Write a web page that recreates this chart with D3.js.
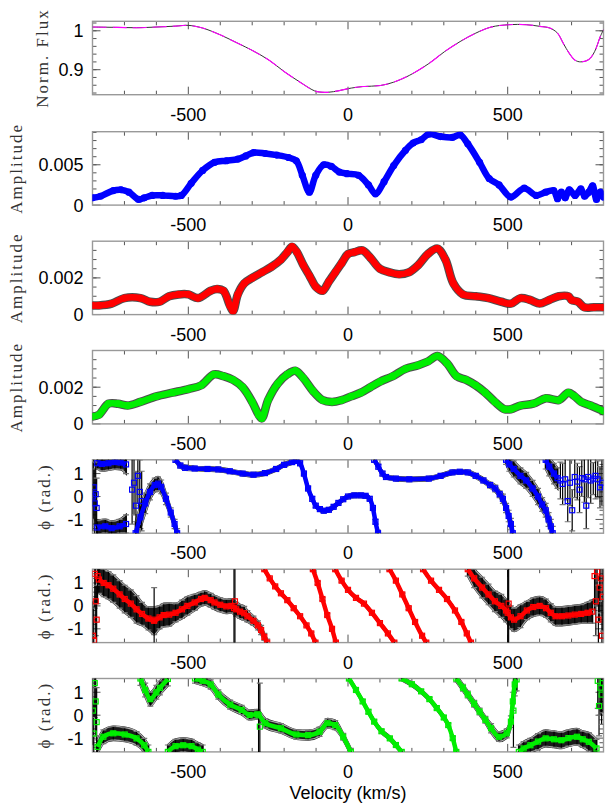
<!DOCTYPE html>
<html><head><meta charset="utf-8">
<script src="https://cdn.jsdelivr.net/npm/d3@7"></script>
<style>body{margin:0;background:#fff}svg{display:block}</style>
</head><body>
<svg id="c" width="611" height="806"></svg>
<script>
// ---------------- DATA ----------------
const velDomain = [-800, 800];
const velMajorTicks = [-500, 0, 500];
const velMinorTicks = [-800,-700,-600,-400,-300,-200,-100,100,200,300,400,600,700,800];

// Panel 1: mean normalized flux
const fluxV   = [-800,-723,-662,-601,-540,-500,-455,-400,-345,-298,-247,-198,-150,-113,-97,-64,-27,1,46,101,143,192,253,302,351,400,448,503,558,601,632,656,674,693,711,729,754,772,790,800];
const fluxVal = [1.0096,1.0088,1.0079,1.0096,1.012,1.014,1.007,0.9896,0.9679,0.9488,0.9244,0.894,0.8679,0.8488,0.8436,0.8418,0.8462,0.8514,0.8566,0.8592,0.8679,0.8853,0.9157,0.9462,0.9723,0.994,1.0096,1.0157,1.0157,1.0114,1.007,0.994,0.9679,0.9418,0.9244,0.9201,0.9262,0.9462,0.9853,1.0027];

// Panel 2: amplitude, blue
const ampBlueV = [-800,-775,-735,-711,-686,-656,-638,-613,-580,-540,-522,-491,-455,-418,-381,-345,-320,-296,-259,-223,-186,-162,-143,-121,-101,-76,-52,-27,-3,33,64,86,113,143,180,204,229,253,290,327,351,375,412,442,473,510,552,589,619,644,656,668,680,693,711,729,741,754,766,778,790,800];
const ampBlue  = [0.0009,0.0011,0.0018,0.0019,0.0016,0.0007,0.0009,0.0012,0.0012,0.0011,0.0012,0.0027,0.0043,0.0053,0.0055,0.0057,0.0061,0.0065,0.0064,0.0062,0.0059,0.0055,0.0037,0.0016,0.0037,0.0050,0.0048,0.0041,0.0039,0.0037,0.0025,0.0014,0.0029,0.0049,0.0068,0.0077,0.0081,0.0088,0.0085,0.0084,0.0087,0.0076,0.0053,0.0033,0.0025,0.0010,0.0021,0.0012,0.0016,0.0018,0.0008,0.0016,0.0009,0.0019,0.0012,0.0020,0.0011,0.0016,0.0024,0.0007,0.0016,0.0010];

// Panel 3: amplitude, red
const ampRedV = [-800,-780,-740,-700,-650,-620,-590,-560,-530,-500,-470,-430,-410,-390,-370,-360,-345,-325,-300,-270,-240,-210,-190,-175,-160,-140,-120,-100,-80,-60,-40,-20,0,20,45,70,100,130,160,190,220,250,280,305,330,360,400,440,480,510,540,570,600,630,660,690,700,720,740,770,800];
const ampRed  = [0.0005,0.0005,0.0006,0.0009,0.0009,0.0007,0.0007,0.0010,0.0011,0.0011,0.0009,0.0013,0.0014,0.0013,0.0005,0.0002,0.0011,0.0017,0.0020,0.0023,0.0026,0.0030,0.0034,0.0037,0.0034,0.0027,0.0021,0.0015,0.0013,0.0018,0.0023,0.0028,0.0033,0.0034,0.0035,0.0031,0.0025,0.0023,0.0022,0.0023,0.0027,0.0033,0.0036,0.0030,0.0017,0.0011,0.0010,0.0009,0.0007,0.0006,0.0009,0.0008,0.0006,0.0008,0.0010,0.0010,0.0008,0.0007,0.0004,0.0004,0.0004];

// Panel 4: amplitude, green
const ampGreenV = [-800,-780,-750,-720,-690,-650,-600,-550,-500,-460,-420,-390,-360,-330,-300,-280,-270,-250,-220,-190,-165,-140,-110,-80,-50,-20,10,40,70,100,140,180,220,250,280,310,340,370,400,430,460,490,510,540,580,620,660,690,710,730,760,800];
const ampGreen  = [0.0004,0.0005,0.0011,0.0011,0.0010,0.0012,0.0015,0.0017,0.0019,0.0021,0.0027,0.0026,0.0024,0.0020,0.0012,0.0005,0.0003,0.0013,0.0022,0.0027,0.0029,0.0025,0.0018,0.0013,0.0012,0.0013,0.0015,0.0017,0.0020,0.0023,0.0026,0.0030,0.0032,0.0034,0.0037,0.0033,0.0026,0.0024,0.0021,0.0017,0.0012,0.0008,0.0008,0.0010,0.0011,0.0014,0.0013,0.0017,0.0015,0.0012,0.0010,0.0007];

// Phase panels: continuous segments of [velocity, phase (rad), error]
const phaseBlue = [
  [[-785,1.45,0.25],[-770,1.42,0.3],[-750,1.45,0.3],[-730,1.5,0.3],[-712,1.48,0.3],[-695,1.4,0.4]],
  [[-785,-1.35,0.3],[-760,-1.3,0.3],[-740,-1.38,0.3],[-715,-1.3,0.3],[-695,-1.2,0.4]],
  [[-665,-1.6,0.5],[-650,-0.9,0.5],[-635,-0.3,0.45],[-620,0.2,0.35],[-605,0.5,0.3],[-595,0.56,0.3],[-585,0.42,0.3],[-570,-0.1,0.25],[-555,-0.7,0.2],[-543,-1.2,0.2],[-535,-1.6,0.2]],
  [[-540,1.6,0.1],[-525,1.35,0.1],[-510,1.25,0.1],[-480,1.22,0.08],[-440,1.2,0.08],[-406,1.18,0.08],[-370,1.1,0.08],[-330,1.0,0.08],[-296,0.95,0.08],[-260,1.02,0.08],[-225,1.2,0.08],[-200,1.38,0.08],[-175,1.5,0.08],[-162,1.55,0.08],[-150,1.45,0.1],[-138,1.0,0.1],[-125,0.35,0.1],[-112,-0.1,0.1],[-101,-0.4,0.08],[-88,-0.55,0.08],[-76,-0.62,0.08],[-60,-0.58,0.08],[-45,-0.45,0.08],[-30,-0.28,0.08],[-15,-0.12,0.08],[0,0.0,0.08],[20,0.05,0.08],[40,0.05,0.08],[55,0.03,0.08],[68,-0.1,0.08],[78,-0.5,0.1],[86,-1.1,0.1],[94,-1.6,0.1]],
  [[82,1.6,0.1],[95,1.3,0.1],[108,1.0,0.1],[119,0.85,0.08],[150,0.78,0.08],[192,0.75,0.08],[253,0.78,0.08],[290,0.9,0.08],[327,1.05,0.08],[350,1.08,0.08],[375,1.05,0.08],[400,0.9,0.1],[424,0.7,0.1],[445,0.5,0.12],[461,0.35,0.15],[475,0.1,0.15],[485,-0.1,0.2],[495,-0.5,0.2],[503,-0.85,0.25],[510,-1.2,0.25],[516,-1.6,0.3]],
  [[495,1.6,0.2],[505,1.4,0.3],[519,1.2,0.35],[540,0.9,0.35],[558,0.7,0.35],[578,0.35,0.35],[595,0.0,0.35],[608,-0.35,0.3],[619,-0.6,0.3],[628,-1.0,0.3],[635,-1.3,0.3],[641,-1.6,0.3]],
  [[619,1.6,0.4],[630,1.3,0.4],[645,1.0,0.45],[656,0.8,0.45]]
];
// isolated points with large errors
const phaseBlueScatter = [[-799,0.0,1.5],[-796,0.4,1.4],[-793,-0.3,1.5],[-790,0.1,1.4],[-787,-0.5,1.3],[-676,0.3,1.5],[-670,0.6,1.4],[-664,-0.4,1.5],[-658,0.9,1.2],[-652,0.2,1.4],[-646,-0.2,1.3],[665,0.7,0.8],[672,0.55,0.9],[680,0.75,0.9],[688,-0.2,0.9],[695,0.6,1.0],[702,-0.6,0.9],[710,0.85,0.9],[718,0.65,0.8],[725,0.3,1.0],[732,0.8,0.8],[740,0.75,1.0],[746,-0.4,1.0],[752,0.85,0.9],[760,0.7,1.0],[768,0.78,0.7],[775,0.9,1.0],[782,0.75,0.8],[789,0.4,0.9],[795,0.6,1.0]];

const phaseRed = [
  [[-780,1.15,0.6],[-765,1.0,0.6],[-750,0.9,0.6],[-735,0.75,0.6],[-715,0.5,0.6],[-699,0.3,0.6],[-680,0.1,0.6],[-662,-0.15,0.6],[-645,-0.35,0.5],[-625,-0.55,0.5],[-607,-0.65,0.6],[-590,-0.5,0.5],[-577,-0.4,0.5],[-560,-0.38,0.5],[-540,-0.3,0.4],[-520,-0.15,0.4],[-503,0.0,0.4],[-480,0.15,0.35],[-460,0.3,0.3],[-449,0.35,0.3],[-430,0.25,0.3],[-418,0.15,0.3],[-400,0.05,0.3],[-381,-0.02,0.3],[-365,0.0,0.3],[-350,-0.15,0.3],[-338,-0.25,0.3],[-325,-0.32,0.3],[-315,-0.45,0.25],[-296,-0.65,0.2],[-282,-0.85,0.2],[-272,-1.05,0.2],[-262,-1.35,0.15],[-253,-1.6,0.15]],
  [[-262,1.6,0.06],[-245,1.2,0.06],[-228,0.85,0.06],[-210,0.55,0.06],[-190,0.25,0.06],[-170,-0.1,0.06],[-150,-0.45,0.06],[-130,-0.85,0.06],[-115,-1.2,0.06],[-102,-1.6,0.06]],
  [[-110,1.6,0.06],[-95,1.0,0.06],[-80,0.3,0.06],[-65,-0.4,0.06],[-50,-1.0,0.06],[-38,-1.6,0.06]],
  [[-40,1.6,0.06],[-20,1.1,0.06],[0,0.7,0.06],[25,0.35,0.06],[50,0.1,0.06],[75,-0.3,0.06],[100,-0.75,0.06],[125,-1.2,0.06],[145,-1.6,0.06]],
  [[130,1.6,0.06],[150,1.1,0.06],[170,0.5,0.06],[190,-0.1,0.06],[210,-0.7,0.06],[232,-1.3,0.06],[245,-1.6,0.06]],
  [[235,1.6,0.06],[260,1.1,0.06],[285,0.7,0.06],[310,0.3,0.06],[335,-0.2,0.06],[355,-0.7,0.06],[372,-1.2,0.06],[385,-1.6,0.06]],
  [[375,1.6,0.3],[395,1.2,0.4],[420,0.8,0.45],[440,0.5,0.45],[460,0.2,0.45],[480,0.0,0.5],[495,-0.2,0.5],[510,-0.5,0.5],[520,-0.6,0.5],[540,-0.45,0.5],[560,-0.2,0.4],[580,-0.05,0.4],[600,0.0,0.4],[620,-0.1,0.4],[635,-0.3,0.4],[650,-0.45,0.4],[670,-0.45,0.4],[690,-0.42,0.4],[710,-0.38,0.4],[730,-0.35,0.4],[750,-0.3,0.45],[765,-0.25,0.5]]
];
const phaseRedScatter = [[-799,-1.3,1.5],[-796,-1.5,1.5],[-793,1.4,1.5],[-790,0.2,1.5],[-787,-0.6,1.5],[-784,1.3,1.2],[-607,-0.6,1.4],[-357,-0.1,1.9],[-354,0.2,1.9],[500,-0.3,1.9],[503,0.1,1.9],[772,1.3,1.5],[776,0.2,1.5],[780,1.5,1.5],[784,-0.6,1.5],[788,0.8,1.5],[792,1.2,1.5],[795,-1.3,1.5],[798,0.4,1.5]];

const phaseGreen = [
  [[-784,-1.38,0.3],[-766,-0.94,0.3],[-735,-0.79,0.3],[-699,-0.84,0.3],[-662,-1.01,0.3],[-638,-1.31,0.3],[-625,-1.6,0.3]],
  [[-650,1.6,0.3],[-635,1.1,0.3],[-619,0.7,0.3],[-600,1.0,0.3],[-589,1.19,0.3],[-564,1.58,0.3]],
  [[-564,-1.6,0.3],[-540,-1.35,0.3],[-516,-1.31,0.3],[-490,-1.35,0.3],[-470,-1.5,0.3],[-455,-1.6,0.3]],
  [[-479,1.6,0.2],[-455,1.5,0.2],[-430,1.34,0.2],[-406,0.9,0.2],[-369,0.46,0.2],[-333,0.23,0.2],[-308,0.01,0.2],[-284,0.04,0.2],[-259,-0.35,0.2],[-210,-0.57,0.2],[-162,-0.84,0.2],[-125,-0.87,0.2],[-89,-0.72,0.2],[-64,-0.35,0.2],[-40,-0.43,0.2],[-15,-0.94,0.15],[9,-1.6,0.15]],
  [[3,1.6,0.08],[25,1.1,0.08],[46,0.6,0.08],[64,0.15,0.08],[82,-0.28,0.08],[105,-0.7,0.08],[131,-1.01,0.08],[150,-1.3,0.08],[168,-1.6,0.08]],
  [[168,1.6,0.08],[200,1.35,0.08],[229,1.04,0.08],[255,0.7,0.08],[278,0.31,0.08],[300,-0.1,0.08],[314,-0.43,0.08],[328,-1.0,0.08],[339,-1.6,0.08]],
  [[339,1.6,0.15],[360,1.2,0.15],[375,0.9,0.15],[395,0.5,0.15],[412,0.16,0.15],[430,-0.2,0.15],[448,-0.57,0.2],[473,-0.94,0.2],[497,-0.79,0.2],[510,-0.28,0.25],[516,0.6,0.4],[522,1.34,0.5],[528,1.56,0.5]],
  [[535,-1.6,0.3],[550,-1.45,0.3],[571,-1.31,0.3],[595,-1.15,0.35],[619,-1.01,0.35],[645,-1.05,0.35],[668,-1.09,0.35],[690,-1.0,0.35],[717,-0.94,0.35],[735,-1.05,0.35],[754,-1.16,0.4],[778,-1.45,0.4]]
];
const phaseGreenScatter = [[-799,0.2,1.5],[-796,-0.8,1.5],[-793,1.4,1.5],[-790,0.6,1.5],[-787,-0.3,1.5],[-280,0.0,1.9],[-276,-0.5,1.9],[518,0.2,1.6],[782,1.5,1.2],[786,0.4,1.3],[790,1.2,1.2],[794,0.9,1.3],[798,1.4,1.3]];
const phaseTicks = [-1, 0, 1];

// ---------------- LAYOUT ----------------
const svg = d3.select('#c');
const X0 = 92.5, X1 = 603.5;
const panelTop = [21.3, 131.7, 241.2, 350.5, 459.8, 569.2, 678.5];
const PH = 73.4;
const x = d3.scaleLinear().domain(velDomain).range([X0, X1]);
const tickFont = '"Liberation Sans", Arial, sans-serif';
const titleFont = '"Liberation Serif", "Times New Roman", serif';

function frame(i, y, majorY, minorY, fmt, title, titleX) {
  const top = panelTop[i], bot = top + PH;
  const g = svg.append('g');
  const tk = (x1, y1, x2, y2) => g.append('line').attr('x1', x1).attr('y1', y1).attr('x2', x2).attr('y2', y2).attr('stroke', '#555');
  velMajorTicks.forEach(v => { tk(x(v), bot, x(v), bot - 8); tk(x(v), top, x(v), top + 8); });
  velMinorTicks.forEach(v => { tk(x(v), bot, x(v), bot - 4); tk(x(v), top, x(v), top + 4); });
  majorY.forEach(t => { tk(X0, y(t), X0 + 8, y(t)); tk(X1, y(t), X1 - 8, y(t)); });
  minorY.forEach(t => { tk(X0, y(t), X0 + 4, y(t)); tk(X1, y(t), X1 - 4, y(t)); });
  g.append('rect').attr('x', X0).attr('y', top).attr('width', X1 - X0).attr('height', PH)
    .attr('fill', 'none').attr('stroke', '#999').attr('stroke-width', 1.4);
  velMajorTicks.forEach(v => {
    g.append('text').attr('x', x(v)).attr('y', bot + 26).attr('text-anchor', 'middle')
      .attr('font-family', tickFont).attr('font-size', 18).text(String(v));
  });
  majorY.forEach(t => {
    g.append('text').attr('x', X0 - 9).attr('y', y(t)).attr('dy', '0.36em').attr('text-anchor', 'end')
      .attr('font-family', tickFont).attr('font-size', 18).text(fmt(t));
  });
  const cy = top + PH / 2;
  g.append('text').attr('transform', `translate(${titleX},${cy}) rotate(-90)`).attr('text-anchor', 'middle')
    .attr('dy', '0.35em').attr('font-family', titleFont).attr('font-size', 17).attr('letter-spacing', 2)
    .attr('fill', '#333').text(title);
}

function clip(i) {
  const id = 'clip' + i;
  svg.append('clipPath').attr('id', id).append('rect').attr('x', X0).attr('y', panelTop[i])
    .attr('width', X1 - X0).attr('height', PH);
  return svg.append('g').attr('clip-path', `url(#${id})`);
}

// ---- Panel 1: flux
{
  const i = 0;
  const y = d3.scaleLinear().domain([0.8357, 1.0244]).range([panelTop[i] + PH, panelTop[i]]);
  const minor = d3.range(0.84, 1.021, 0.02).map(v => +v.toFixed(2));
  frame(i, y, [0.9, 1], minor, d => d === 1 ? '1' : d3.format('.1f')(d), 'Norm. Flux', 42);
  const g = clip(i);
  const pts = fluxV.map((v, k) => [v, fluxVal[k]]);
  const line = d3.line().x(d => x(d[0])).y(d => y(d[1])).curve(d3.curveCatmullRom);
  g.append('path').attr('d', line(pts)).attr('fill', 'none').attr('stroke', '#333').attr('stroke-width', 1);
  g.append('path').attr('d', line(pts)).attr('fill', 'none').attr('stroke', '#ff00ff').attr('stroke-width', 1.1)
    .attr('stroke-dasharray', '14,6');
}

function ampPanel(i, vs, as, domainTop, major, minor, color, outline) {
  const y = d3.scaleLinear().domain([0, domainTop]).range([panelTop[i] + PH, panelTop[i]]);
  frame(i, y, major, minor, d => d === 0 ? '0' : d3.format('.3f')(d), 'Amplitude', 16);
  const g = clip(i);
  const pts = vs.map((v, k) => [v, as[k]]);
  const line = d3.line().x(d => x(d[0])).y(d => y(d[1])).curve(d3.curveCatmullRom);
  if (outline) g.append('path').attr('d', line(pts)).attr('fill', 'none').attr('stroke', '#222')
    .attr('stroke-width', 8.5).attr('stroke-linejoin', 'round').attr('stroke-linecap', 'round').attr('opacity', 0.8);
  g.append('path').attr('d', line(pts)).attr('fill', 'none').attr('stroke', color)
    .attr('stroke-width', 6.5).attr('stroke-linejoin', 'round').attr('stroke-linecap', 'round');
  g.selectAll(null).data(pts).enter().append('circle').attr('cx', d => x(d[0])).attr('cy', d => y(d[1]))
    .attr('r', 3.6).attr('fill', color);
}

ampPanel(1, ampBlueV, ampBlue, 0.0091, [0, 0.005], d3.range(0.001, 0.0091, 0.001), '#0000ff', false);
ampPanel(2, ampRedV, ampRed, 0.004, [0, 0.002], d3.range(0.0005, 0.004, 0.0005), '#ff0000', true);
ampPanel(3, ampGreenV, ampGreen, 0.004, [0, 0.002], d3.range(0.0005, 0.004, 0.0005), '#00ee00', true);

function phasePanel(i, segs, scatter, color) {
  const y = d3.scaleLinear().domain([-1.6, 1.6]).range([panelTop[i] + PH, panelTop[i]]);
  const minor = d3.range(-1.4, 1.5, 0.2).map(v => +v.toFixed(1)).filter(v => ![-1, 0, 1].includes(v));
  frame(i, y, phaseTicks, minor, d => String(d), 'ϕ (rad.)', 44);
  const g = clip(i);
  const area = d3.area().x(d => x(d[0])).y0(d => y(d[1] - d[2])).y1(d => y(d[1] + d[2])).curve(d3.curveMonotoneX);
  const lineHi = d3.line().x(d => x(d[0])).y(d => y(d[1] + d[2])).curve(d3.curveMonotoneX);
  const lineLo = d3.line().x(d => x(d[0])).y(d => y(d[1] - d[2])).curve(d3.curveMonotoneX);
  const line = d3.line().x(d => x(d[0])).y(d => y(d[1])).curve(d3.curveMonotoneX);
  const errbar = d => {
    g.append('line').attr('x1', x(d[0])).attr('x2', x(d[0])).attr('y1', y(d[1] - d[2])).attr('y2', y(d[1] + d[2]))
      .attr('stroke', '#000').attr('stroke-width', 1.2);
    [d[1] - d[2], d[1] + d[2]].forEach(e => g.append('line').attr('x1', x(d[0]) - 3).attr('x2', x(d[0]) + 3)
      .attr('y1', y(e)).attr('y2', y(e)).attr('stroke', '#777').attr('stroke-width', 1.2));
  };
  segs.forEach(seg => {
    g.append('path').attr('d', area(seg)).attr('fill', '#1a1a1a').attr('stroke', '#1a1a1a').attr('stroke-width', 2);
    g.append('path').attr('d', lineHi(seg)).attr('fill', 'none').attr('stroke', '#aaa').attr('stroke-width', 1.2);
    g.append('path').attr('d', lineLo(seg)).attr('fill', 'none').attr('stroke', '#aaa').attr('stroke-width', 1.2);
    seg.forEach(errbar);
  });
  scatter.forEach(errbar);
  segs.forEach(seg => {
    g.append('path').attr('d', line(seg)).attr('fill', 'none').attr('stroke', color).attr('stroke-width', 4.5);
    g.selectAll(null).data(seg).enter().append('rect').attr('x', d => x(d[0]) - 2.5).attr('y', d => y(d[1]) - 2.5)
      .attr('width', 5).attr('height', 5).attr('fill', 'none').attr('stroke', color).attr('stroke-width', 1.2);
  });
  g.selectAll(null).data(scatter).enter().append('rect').attr('x', d => x(d[0]) - 2.5).attr('y', d => y(d[1]) - 2.5)
    .attr('width', 5).attr('height', 5).attr('fill', 'none').attr('stroke', color).attr('stroke-width', 1.2);
}
phasePanel(4, phaseBlue, phaseBlueScatter, '#0000ff');
phasePanel(5, phaseRed, phaseRedScatter, '#ff0000');
phasePanel(6, phaseGreen, phaseGreenScatter, '#00ee00');

svg.append('text').attr('x', x(0)).attr('y', 799).attr('text-anchor', 'middle')
  .attr('font-family', tickFont).attr('font-size', 18).text('Velocity (km/s)');
</script>
</body></html>
